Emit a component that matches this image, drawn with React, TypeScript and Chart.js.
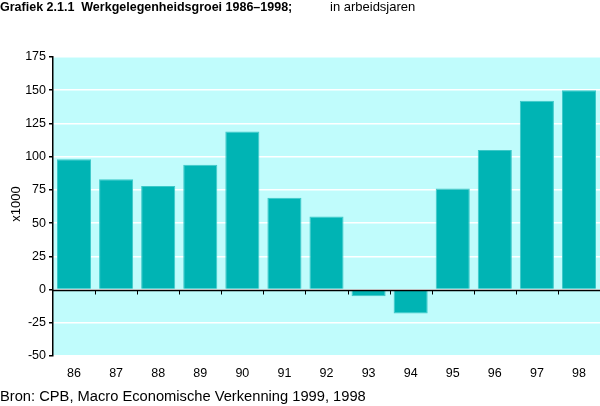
import React, { useEffect, useRef } from "react";
import { Chart, registerables } from "chart.js";

Chart.register(...registerables);

const categories = ["86", "87", "88", "89", "90", "91", "92", "93", "94", "95", "96", "97", "98"];
const growth = [98, 83, 78, 94, 119, 69, 55, -5, -18, 76, 105, 142, 150];
const yTicks = [-50, -25, 0, 25, 50, 75, 100, 125, 150, 175];

const titleBold = "Grafiek 2.1.1  Werkgelegenheidsgroei 1986\u20131998;";
const titleUnit = "in arbeidsjaren";
const yAxisLabel = "x1000";
const sourceText = "Bron: CPB, Macro Economische Verkenning 1999, 1998";

const FONT = "'Liberation Sans', Arial, Helvetica, sans-serif";

const decorPlugin = {
  id: "decor",
  beforeDraw(chart: any) {
    const { ctx, chartArea } = chart;
    ctx.save();
    ctx.fillStyle = "#c0fcfc";
    ctx.fillRect(chartArea.left, chartArea.top, chartArea.right - chartArea.left, chartArea.bottom - chartArea.top);
    ctx.restore();
  },
  afterDatasetsDraw(chart: any) {
    const { ctx, chartArea, scales } = chart;
    const y0 = Math.round(scales.y.getPixelForValue(0)) + 0.5;
    ctx.save();
    ctx.strokeStyle = "#000";
    ctx.lineWidth = 1.5;
    ctx.beginPath();
    ctx.moveTo(chartArea.left, y0);
    ctx.lineTo(chartArea.right, y0);
    ctx.stroke();
    ctx.lineWidth = 1;
    const n = categories.length;
    const w = (chartArea.right - chartArea.left) / n;
    for (let i = 1; i < n; i++) {
      const x = Math.round(chartArea.left + i * w) + 0.5;
      ctx.beginPath();
      ctx.moveTo(x, y0);
      ctx.lineTo(x, y0 + 4);
      ctx.stroke();
    }
    // y axis label
    ctx.fillStyle = "#000";
    ctx.font = `13px ${FONT}`;
    ctx.textAlign = "center";
    ctx.textBaseline = "middle";
    ctx.translate(16, 204);
    ctx.rotate(-Math.PI / 2);
    ctx.fillText(yAxisLabel, 0, 0);
    ctx.restore();
  },
};

export default function App() {
  const ref = useRef<HTMLCanvasElement | null>(null);
  useEffect(() => {
    if (!ref.current) return;
    const chart = new Chart(ref.current, {
      type: "bar",
      data: {
        labels: categories,
        datasets: [
          {
            data: growth,
            backgroundColor: "#00b4b4",
            borderColor: "#3cc8c8",
            borderWidth: 1,
            barPercentage: 0.81,
            categoryPercentage: 1,
          },
        ],
      },
      options: {
        animation: false,
        responsive: false,
        maintainAspectRatio: false,
        layout: { padding: { top: 57, left: 0, right: 0, bottom: 0 } },
        plugins: { legend: { display: false }, tooltip: { enabled: false }, title: { display: false } },
        scales: {
          x: {
            grid: { display: false },
            border: { display: false },
            ticks: { color: "#000", font: { family: FONT, size: 12.5 }, padding: 2, maxRotation: 0 },
            afterFit(scale: any) {
              scale.height = 50;
            },
          },
          y: {
            min: -50,
            max: 175,
            afterBuildTicks(scale: any) {
              scale.ticks = yTicks.map((v) => ({ value: v }));
            },
            grid: { color: "#ffffff", lineWidth: 1.5, tickColor: "#000", tickLength: 4, drawTicks: true },
            border: { display: true, color: "#000", width: 1.5 },
            ticks: { color: "#000", font: { family: FONT, size: 12.5 }, padding: 3 },
            afterFit(scale: any) {
              scale.width = 53;
            },
          },
        },
      },
      plugins: [decorPlugin],
    });
    return () => chart.destroy();
  }, []);

  return (
    <div style={{ position: "fixed", left: 0, top: 0, width: 600, height: 406, background: "#fff", fontFamily: FONT }}>
      <canvas ref={ref} width={600} height={406} style={{ position: "absolute", left: 0, top: 0 }} />
      <div style={{ position: "absolute", left: 0, top: -1, fontSize: 12.5, fontWeight: "bold", whiteSpace: "pre", lineHeight: "16px" }}>
        {titleBold}
      </div>
      <div style={{ position: "absolute", left: 330, top: -1, fontSize: 13, whiteSpace: "pre", lineHeight: "16px" }}>
        {titleUnit}
      </div>
      <div style={{ position: "absolute", left: 0, top: 389, fontSize: 14.7, whiteSpace: "pre", lineHeight: "14.5px" }}>
        {sourceText}
      </div>
    </div>
  );
}
